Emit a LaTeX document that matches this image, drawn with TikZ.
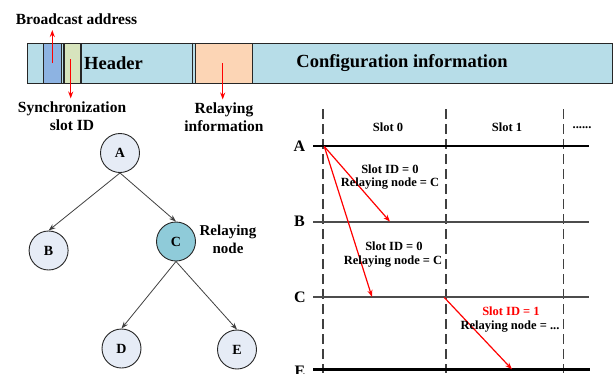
\documentclass[tikz,border=0pt]{standalone}
\usepackage{fontspec}
\setmainfont{Liberation Serif}
\usetikzlibrary{arrows.meta}
\definecolor{barblue}{HTML}{B7DDE8}
\definecolor{cellblue}{HTML}{8DB3E2}
\definecolor{cellgreen}{HTML}{D7E4BD}
\definecolor{cellorange}{HTML}{FCD5B5}
\definecolor{nodefill}{HTML}{E6ECF6}
\definecolor{relayfill}{HTML}{8FCBD9}
\definecolor{edgegray}{HTML}{404040}
\definecolor{redarrow}{HTML}{FF0000}
\tikzset{
  barcell/.style={draw=black!85, line width=1.2pt},
  redarr/.style={draw=redarrow, line width=1.2pt, -{Stealth[length=7pt,width=5pt]}},
  treenode/.style={circle, draw=black!85, line width=0.9pt, fill=nodefill, minimum size=39pt, inner sep=0pt, font=\fontsize{14}{16}\selectfont\bfseries},
  treearr/.style={draw=edgegray, line width=0.8pt, -{Stealth[length=7pt,width=5pt]}},
  lbl/.style={font=\fontsize{15.5}{18}\selectfont\bfseries, inner sep=0pt, align=center},
  small/.style={font=\fontsize{12.5}{15}\selectfont\bfseries, inner sep=0pt, align=center},
  rowlbl/.style={font=\fontsize{16}{18}\selectfont\bfseries, inner sep=0pt},
  timeline/.style={line width=1.8pt},
  slotdash/.style={draw=black!75, line width=1.6pt, dash pattern=on 9.5pt off 5.5pt},
}
\begin{document}
\begin{tikzpicture}[x=1pt,y=-1pt]
\useasboundingbox (0,0) rectangle (614,373);
% ---------- frame bar ----------
\node[barcell, fill=barblue, anchor=north west, minimum width=585pt, minimum height=40pt, inner sep=0pt] (bar) at (27,42.5) {};
\node[barcell, fill=cellblue, anchor=north west, minimum width=17.5pt, minimum height=40pt, inner sep=0pt] (bcast) at (43,42.5) {};
\node[barcell, fill=cellgreen, anchor=north west, minimum width=17pt, minimum height=40pt, inner sep=0pt] (sync) at (63.3,42.5) {};
\draw[line width=1.2pt, black!85] (192.3,42.5) -- (192.3,82.5);
\node[barcell, fill=cellorange, anchor=north west, minimum width=56.5pt, minimum height=40pt, inner sep=0pt] (relinfo) at (195,42.5) {};
\node[font=\fontsize{18.5}{20}\selectfont\bfseries, inner sep=0pt] (header) at (113.5,63) {Header};
\node[font=\fontsize{18.5}{20}\selectfont\bfseries, inner sep=0pt] (config) at (402,63) {Configuration information};
% labels of the bar
\node[lbl] (bcastlbl) at (76.5,19.5) {Broadcast address};
\node[lbl] (synclbl) at (72,116.5) {Synchronization\\slot ID};
\node[lbl] (relinfolbl) at (224,117.5) {Relaying\\information};
\coordinate (bcastin) at (52.3,63);
\coordinate (bcastout) at (52.3,30);
\coordinate (syncin) at (70.7,59);
\coordinate (syncout) at (70.7,98.5);
\coordinate (relin) at (222.7,63);
\coordinate (relout) at (222.7,99.5);
\draw[redarr] (bcastin) -- (bcastout);
\draw[redarr] (syncin) -- (syncout);
\draw[redarr] (relin) -- (relout);
% ---------- tree ----------
\node[treenode] (A) at (120,153) {A};
\node[treenode] (B) at (48.6,250.5) {B};
\node[treenode, fill=relayfill] (C) at (176,241.5) {C};
\node[treenode] (D) at (121.5,348.5) {D};
\node[treenode] (E) at (237,349.5) {E};
\node[lbl, font=\fontsize{15}{18}\selectfont\bfseries] (relaynode) at (228,239.5) {Relaying\\node};
\draw[treearr] (A.south) -- (B.north);
\draw[treearr] (A.south) -- (C.north);
\draw[treearr] (C.south) -- (D.north);
\draw[treearr] (C.south) -- (E.north);
% ---------- timing diagram ----------
\coordinate (s0top) at (322.7,109);
\coordinate (s0bot) at (322.7,373);
\coordinate (s1top) at (445.7,109);
\coordinate (s1bot) at (445.7,373);
\coordinate (s2top) at (563.3,109);
\coordinate (s2bot) at (563.3,373);
\draw[slotdash] (s0top) -- (s0bot);
\draw[slotdash] (s1top) -- (s1bot);
\draw[slotdash] (s2top) -- (s2bot);
\node[small] (slot0) at (388,127) {Slot 0};
\node[small] (slot1) at (507,127) {Slot 1};
\node[small, anchor=base] (dots) at (582,128) {......};
\node[rowlbl] (rA) at (299.5,146) {A};
\node[rowlbl] (rB) at (299.5,221) {B};
\node[rowlbl] (rC) at (300,297) {C};
\node[rowlbl] (rE) at (300,371) {E};
\coordinate (Al) at (313,146);
\coordinate (Ar) at (589,146);
\coordinate (Bl) at (313,221.7);
\coordinate (Br) at (589,221.7);
\coordinate (Cl) at (313,297.3);
\coordinate (Cr) at (589,297.3);
\coordinate (El) at (313,369.5);
\coordinate (Er) at (590,369.5);
\draw[timeline, black] (Al) -- (Ar);
\draw[timeline, black!70] (Bl) -- (Br);
\draw[timeline, black!70] (Cl) -- (Cr);
\draw[line width=2.4pt, black] (El) -- (Er);
\coordinate (txA) at (324.3,146.5);
\coordinate (rxB) at (390,221.7);
\coordinate (rxC) at (372,297);
\coordinate (txC) at (444.3,297.5);
\coordinate (rxE) at (512,369.3);
\draw[redarr] (txA) -- (rxB);
\draw[redarr] (txA) -- (rxC);
\draw[redarr] (txC) -- (rxE);
\node[small] (m1a) at (390,169) {Slot ID = 0};
\node[small] (m1b) at (390,184) {Relaying node = C};
\node[small] (m2a) at (394,246) {Slot ID = 0};
\node[small] (m2b) at (393,261.5) {Relaying node = C};
\node[small, text=redarrow] (m3a) at (511,311.5) {Slot ID = 1};
\node[small] (m3b) at (510,326.5) {Relaying node = ...};
\end{tikzpicture}
\end{document}
